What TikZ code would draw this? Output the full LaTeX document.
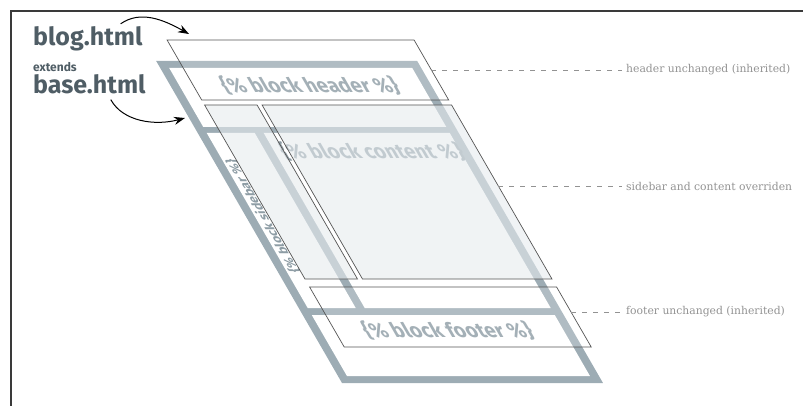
\documentclass[tikz,border=0pt]{standalone}
\usepackage{fontspec}
\setmainfont{Fira Sans}
\newfontfamily\slabfont{DejaVu Serif}
\usetikzlibrary{arrows.meta}
\definecolor{band}{HTML}{9DACB4}
\definecolor{basetxtc}{HTML}{8E9DA5}
\definecolor{labdark}{HTML}{4F5D65}
\definecolor{edgec}{HTML}{555555}
\definecolor{notegrey}{HTML}{929292}
\definecolor{ovl}{HTML}{E6EBEE}
\definecolor{framec}{HTML}{3A3A3A}
\begin{document}
\begin{tikzpicture}[x=1pt,y=-1pt,
  page/.style={xslant=-0.577},
  basetxt/.style={text=basetxtc,font=\bfseries\fontsize{20}{24}\selectfont,inner sep=0pt,transform shape},
  sidetxt/.style={text=basetxtc,font=\bfseries\fontsize{12.5}{15}\selectfont,inner sep=0pt,transform shape,rotate=90},
  blogbox/.style={draw=edgec,line width=0.7pt,fill=white,fill opacity=0.2},
  blogover/.style={draw=edgec,line width=0.7pt,fill=ovl,fill opacity=0.6},
  filelab/.style={text=labdark,font=\bfseries\fontsize{25}{28}\selectfont,inner sep=0pt,anchor=base west},
  note/.style={text=notegrey,font=\slabfont\fontsize{10.8}{13}\selectfont,anchor=west,inner sep=4pt},
  leader/.style={draw=notegrey,line width=0.6pt,dash pattern=on 5pt off 6pt},
  arr/.style={draw=black,line width=1pt,-{Stealth[length=11pt,width=8pt]}}]
\useasboundingbox (0,0) rectangle (803,406);
% frame
\draw[framec,line width=1.3pt] (11,406) -- (11,11) -- (803,11);
% base.html layer
\begin{scope}[page]
  \fill[band] (121,61) rectangle (382,383);
  \fill[white] (130,68) rectangle (373,127);
  \fill[white] (130,133) rectangle (178,308);
  \fill[white] (187,133) rectangle (373,308);
  \fill[white] (130,315) rectangle (373,376);
  \node[basetxt] (hdrtxt) at (260,86) {\{\% block header \%\}};
  \node[basetxt] (cnttxt) at (284,152) {\{\% block content \%\}};
  \node[basetxt] (ftrtxt) at (257,330) {\{\% block footer \%\}};
  \node[sidetxt] (sidtxt) at (138,216) {\{\% block sidebar \%\}};
\end{scope}
% blog.html layer
\begin{scope}[page]
  \filldraw[blogbox] (144,40) rectangle (391,100);
  \filldraw[blogover] (144,105) rectangle (196.5,279);
  \filldraw[blogover] (201.5,105) rectangle (391,279);
  \filldraw[blogbox] (144,287) rectangle (391,347);
  \coordinate (hdrR) at (391,70);
  \coordinate (cntR) at (391,186);
  \coordinate (ftrR) at (391,312);
\end{scope}
% notes
\node[note] (hnote) at (622,70) {header unchanged (inherited)};
\node[note] (cnote) at (622,186) {sidebar and content overriden};
\node[note] (fnote) at (622,312) {footer unchanged (inherited)};
\draw[leader] (hdrR) -- (hnote.west);
\draw[leader] (cntR) -- (cnote.west);
\draw[leader] (ftrR) -- (fnote.west);
% file labels
\node[filelab] (blog) at (33,46) {blog.html};
\node[anchor=base west,inner sep=0pt,text=labdark,font=\bfseries\fontsize{12}{14}\selectfont] (ext) at (33,72) {extends};
\node[filelab] (base) at (33,94) {base.html};
\coordinate (blogtip) at (189,34);
\coordinate (basetip) at (185,118);
\draw[arr] ([xshift=-22pt,yshift=3pt]blog.north east) .. controls +(20,-14) and +(-25,-14) .. (blogtip);
\draw[arr] ([xshift=-35pt,yshift=-5pt]base.south east) .. controls +(12,22) and +(-30,8) .. (basetip);
\end{tikzpicture}
\end{document}
